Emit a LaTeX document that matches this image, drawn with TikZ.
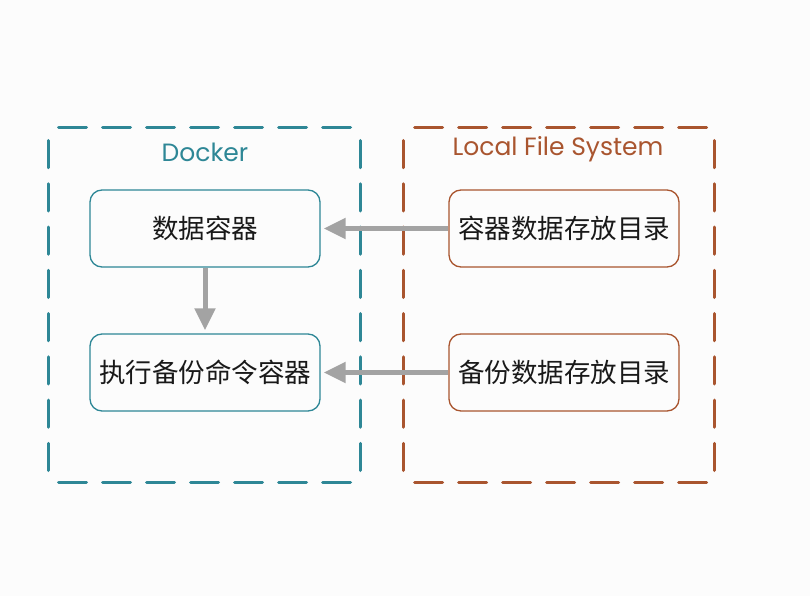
\documentclass[tikz,border=0pt]{standalone}
\usepackage{fontspec}
\setmainfont{Poppins}
\newfontfamily\cjk{Noto Sans CJK SC}
\usetikzlibrary{arrows.meta}
\definecolor{teal1}{HTML}{2E8796}
\definecolor{brown1}{HTML}{A9552F}
\definecolor{arrowgray}{HTML}{A3A3A3}
\tikzset{
  hframe/.style={line width=3pt, line cap=round, dash pattern=on 28pt off 16pt},
  vframe/.style={line width=3pt, line cap=round, dash pattern=on 27.25pt off 16pt},
  innerbox/.style={rounded corners=12pt, line width=1.3pt, minimum width=230pt, minimum height=77pt, inner sep=0pt, font=\cjk\fontsize{26.5}{30}\selectfont, text=black!90},
  flow/.style={draw=arrowgray, line width=5pt, -{Triangle[length=22pt,width=20pt]}, shorten >=3pt},
  title/.style={font=\fontsize{25}{29}\selectfont, inner sep=0pt}
}
\begin{document}
\begin{tikzpicture}[x=1pt,y=-1pt]
\fill[white!99!black] (0,0) rectangle (810,596);
\useasboundingbox (0,0) rectangle (810,596);
% Docker frame
\coordinate (d1) at (58.5,128); \coordinate (d2) at (350.5,128);
\coordinate (d3) at (48,140.5); \coordinate (d4) at (48,470.5);
\coordinate (d5) at (360,140.5); \coordinate (d6) at (360,470.5);
\coordinate (d7) at (58.5,482); \coordinate (d8) at (350.5,482);
\draw[hframe, draw=teal1] (d1) -- (d2);
\draw[vframe, draw=teal1] (d3) -- (d4);
\draw[vframe, draw=teal1] (d5) -- (d6);
\draw[hframe, draw=teal1] (d7) -- (d8);
% Local frame
\coordinate (l1) at (414.5,128); \coordinate (l2) at (706.5,128);
\coordinate (l3) at (403,140.5); \coordinate (l4) at (403,470.5);
\coordinate (l5) at (714,140.5); \coordinate (l6) at (714,470.5);
\coordinate (l7) at (414.5,482); \coordinate (l8) at (706.5,482);
\draw[hframe, draw=brown1] (l1) -- (l2);
\draw[vframe, draw=brown1] (l3) -- (l4);
\draw[vframe, draw=brown1] (l5) -- (l6);
\draw[hframe, draw=brown1] (l7) -- (l8);
\node[title, text=teal1] (dockertitle) at (205,152) {Docker};
\node[title, text=brown1] (localtitle) at (558,149) {Local File System};
\node[innerbox, draw=teal1] (data) at (205,228.5) {数据容器};
\node[innerbox, draw=teal1] (exec) at (205,372.5) {执行备份命令容器};
\node[innerbox, draw=brown1] (store) at (564,228.5) {容器数据存放目录};
\node[innerbox, draw=brown1] (backup) at (564,372.5) {备份数据存放目录};
\draw[flow] (store) -- (data);
\draw[flow] (backup) -- (exec);
\draw[flow] (data) -- (exec);
\end{tikzpicture}
\end{document}
